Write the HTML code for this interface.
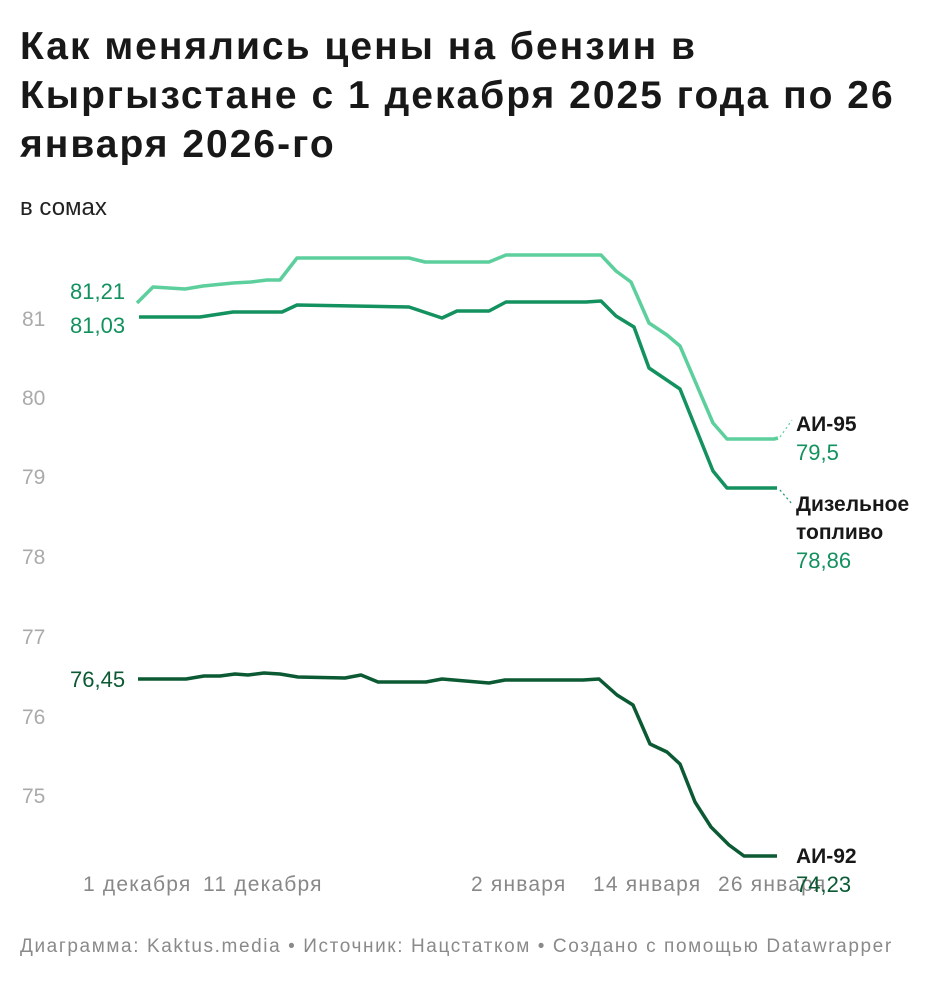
<!DOCTYPE html>
<html><head><meta charset="utf-8"><style>
body{margin:0;background:#fff;width:940px;height:982px;overflow:hidden;font-family:"Liberation Sans",sans-serif}
h1{position:absolute;left:20px;top:22px;margin:0;font-size:39px;line-height:49px;font-weight:bold;color:#181818;white-space:nowrap;letter-spacing:2px}
.sub{position:absolute;left:20px;top:194px;font-size:24px;color:#222}
.foot{position:absolute;left:20px;top:936px;font-size:19px;color:#8a8a8a;letter-spacing:1.6px;white-space:nowrap}
svg{position:absolute;left:0;top:0}
</style></head><body>
<h1>Как менялись цены на бензин в<br>Кыргызстане с 1 декабря 2025 года по 26<br>января 2026-го</h1>
<div class="sub">в сомах</div>
<svg width="940" height="982" font-family="Liberation Sans, sans-serif">
<g fill="#aaa" font-size="21">
<text x="22" y="326">81</text><text x="22" y="405">80</text><text x="22" y="484">79</text>
<text x="22" y="564">78</text><text x="22" y="644">77</text><text x="22" y="724">76</text><text x="22" y="803">75</text>
</g>
<g fill="#888" font-size="21" letter-spacing="1.2">
<text x="83" y="891">1 декабря</text><text x="203" y="891">11 декабря</text>
<text x="471" y="891">2 января</text><text x="593" y="891">14 января</text><text x="718" y="891">26 января</text>
</g>
<g fill="none" stroke-width="3.5" stroke-linejoin="round">
<polyline stroke="#5ccf9d" points="137,303 153,287 185,289 203,286 233,283 251,282 267,280 280,280 297,258 409,258 425,262 489,262 506,255 601,255 616,271 631,282 649,323 667,335 680,346 713,423 727,439 774,439 778,438"/>
<polyline stroke="#13915f" points="139,317 200,317 233,312 282,312 297,305 409,307 442,318 457,311 489,311 506,302 586,302 601,301 616,316 634,327 649,368 680,389 713,471 727,488 777,488"/>
<polyline stroke="#0b5a34" points="138,679 186,679 204,676 220,676 235,674 248,675 264,673 280,674 298,677 345,678 361,675 378,682 426,682 442,679 489,683 505,680 583,680 599,679 617,695 633,705 650,744 667,752 680,764 695,802 711,827 729,845 744,856 777,856"/>
</g>
<g stroke-dasharray="2,3" stroke-width="1.2" fill="none">
<line x1="780" y1="437" x2="792" y2="420" stroke="#5ccf9d"/>
<line x1="780" y1="490" x2="792" y2="504" stroke="#13915f"/>
</g>
<g font-size="22">
<text x="70" y="299" fill="#13915f">81,21</text>
<text x="70" y="333" fill="#13915f">81,03</text>
<text x="70" y="687" fill="#0b5a34">76,45</text>
<text x="796" y="431" fill="#181818" font-weight="bold" font-size="21">АИ-95</text>
<text x="796" y="460" fill="#13915f">79,5</text>
<text x="796" y="511" fill="#181818" font-weight="bold" font-size="21">Дизельное</text>
<text x="796" y="539" fill="#181818" font-weight="bold" font-size="21">топливо</text>
<text x="796" y="568" fill="#13915f">78,86</text>
<text x="796" y="863" fill="#181818" font-weight="bold" font-size="21">АИ-92</text>
<text x="796" y="892" fill="#0b5a34">74,23</text>
</g>
</svg>
<div class="foot">Диаграмма: Kaktus.media • Источник: Нацстатком • Создано с помощью Datawrapper</div>
</body></html>
